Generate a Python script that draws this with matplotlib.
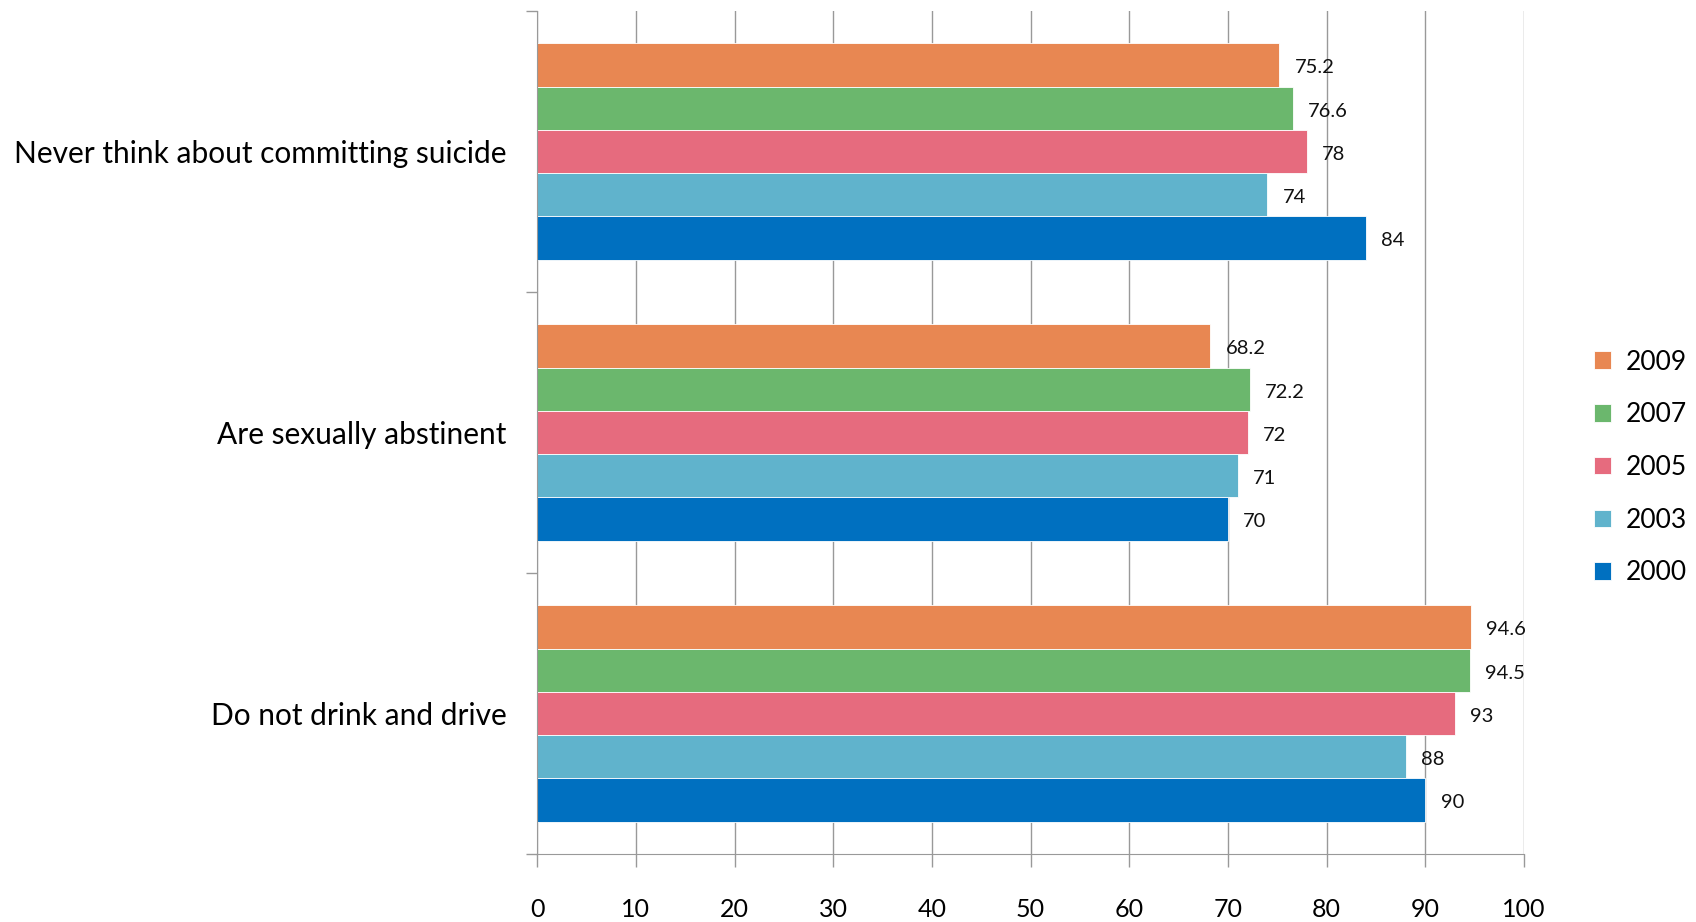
import numpy as np
import matplotlib
matplotlib.use("Agg")
import matplotlib.pyplot as plt

plt.rcParams['font.family'] = ['Lato', 'DejaVu Sans']

# categories listed bottom to top
categories = ["Do not drink and drive", "Are sexually abstinent", "Never think about committing suicide"]
years = ["2009", "2007", "2005", "2003", "2000"]
colors = ["#E88752", "#6BB76D", "#E66B7E", "#60B3CC", "#0070C0"]

v2009 = [94.6, 68.2, 75.2]
v2007 = [94.5, 72.2, 76.6]
v2005 = [93, 72, 78]
v2003 = [88, 71, 74]
v2000 = [90, 70, 84]
values = [v2009, v2007, v2005, v2003, v2000]
labels = [["94.6", "68.2", "75.2"], ["94.5", "72.2", "76.6"], ["93", "72", "78"],
          ["88", "71", "74"], ["90", "70", "84"]]

fig = plt.figure(figsize=(16.96, 9.22), dpi=100)
ax = fig.add_axes([0.3167, 0.0738, 0.8986 - 0.3167, 0.988 - 0.0738])

h = 1.0 / 6.5
base = np.arange(len(categories))
bars = []
for i, (yr, col, vals) in enumerate(zip(years, colors, values)):
    # 2009 on top within each group
    y = base + 0.5 + (2 - i) * h
    b = ax.barh(y, vals, height=h, color=col, edgecolor="white", linewidth=0.6, label=yr, zorder=2)
    bars.append(b)
    for yy, v, t in zip(y, vals, labels[i]):
        ax.annotate(t, (v, yy), xytext=(11, -2), textcoords="offset points",
                    ha="left", va="center", fontsize=14.5, color="#111111")

ax.set_xlim(0, 100)
ax.set_ylim(0, 3)
ax.set_xticks(np.arange(0, 101, 10))
ax.tick_params(axis="x", length=9, width=1, color="#999999", pad=23, labelsize=18)
ax.set_yticks([0, 1, 2, 3])
ax.set_yticklabels([])
ax.tick_params(axis="y", which="major", length=8, width=1, color="#999999")
ax.set_yticks(base + 0.5, minor=True)
ax.set_yticklabels(categories, minor=True, fontsize=21.5)
ax.tick_params(axis="y", which="minor", length=0, pad=22)
ax.grid(axis="x", color="#999999", linewidth=1, zorder=0)
ax.set_axisbelow(True)
for s in ["top", "right"]:
    ax.spines[s].set_visible(False)
for s in ["left", "bottom"]:
    ax.spines[s].set_color("#999999")

ax.legend(handles=bars, labels=years, loc="center left", bbox_to_anchor=(0.926, 0.493),
          bbox_transform=fig.transFigure, frameon=False, fontsize=19,
          handlelength=0.65, handleheight=0.65, labelspacing=1.05, handletextpad=0.55)

fig.savefig("out.png", dpi=100)
